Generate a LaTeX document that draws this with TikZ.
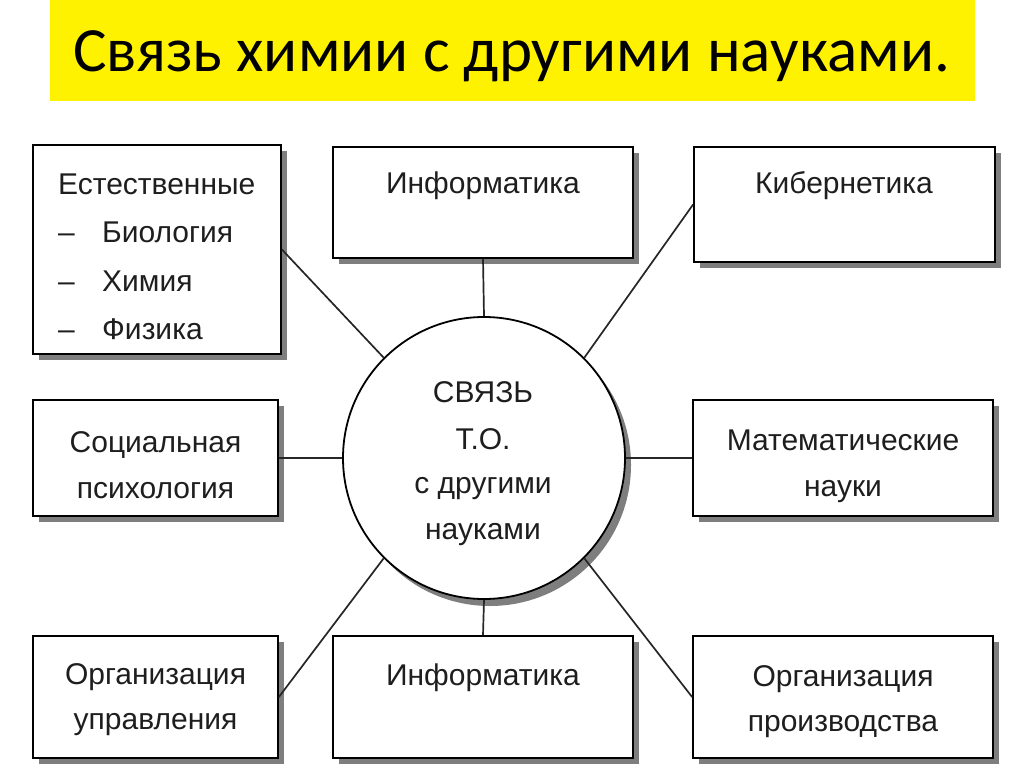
\documentclass[tikz,border=0pt]{standalone}
\usepackage{fontspec}
\setmainfont{Liberation Sans}
\newfontfamily\titlefont{Carlito}
\usetikzlibrary{shadows}
\definecolor{txtc}{HTML}{1E1E1E}
\definecolor{shadowc}{HTML}{7E7E7E}
\begin{document}
\begin{tikzpicture}[x=1pt,y=-1pt,
  boxst/.style={draw=black, line width=1.8pt, fill=white, rectangle, inner sep=0pt,
    drop shadow={shadow xshift=6pt, shadow yshift=-6pt, fill=shadowc, opacity=1}},
  txt/.style={font=\fontsize{30}{30}\selectfont, text=txtc, inner sep=0pt, anchor=base},
  link/.style={draw=black!85, line width=1.7pt}]
\fill[white] (0,0) rectangle (1024,767);
\useasboundingbox (0,0) rectangle (1024,767);
% title
\fill[yellow] (50,0) rectangle (975,101);
\node[inner sep=0pt, anchor=base, font=\titlefont\fontsize{63}{63}\selectfont] (title) at (511.5,72) {Связь химии с другими науками.};
% boxes
\node[boxst, minimum width=248pt, minimum height=209pt] (est) at (157,249.5) {};
\node[boxst, minimum width=300pt, minimum height=111pt] (inf1) at (483,202.5) {};
\node[boxst, minimum width=301pt, minimum height=115pt] (kib) at (844.5,204.5) {};
\node[boxst, minimum width=245pt, minimum height=116pt] (soc) at (155.5,458) {};
\node[boxst, minimum width=300pt, minimum height=116pt] (mat) at (843,458) {};
\node[boxst, minimum width=245pt, minimum height=122pt] (upr) at (155.5,697) {};
\node[boxst, minimum width=300pt, minimum height=122pt] (inf2) at (483,697) {};
\node[boxst, minimum width=300pt, minimum height=122pt] (pro) at (843,697) {};
\node[draw=black, line width=1.8pt, fill=white, circle, inner sep=0pt, minimum size=282pt,
  drop shadow={shadow xshift=6pt, shadow yshift=-7pt, fill=shadowc, opacity=1}] (c) at (484,458) {};
% connectors
\draw[link] (est.east) -- (c.135);
\draw[link] (inf1.south) -- (c.north);
\draw[link] (kib.west) -- (c.45);
\draw[link] (soc.east) -- (c.west);
\draw[link] (c.east) -- (mat.west);
\draw[link] (upr.east) -- (c.225);
\draw[link] (c.south) -- (inf2.north);
\draw[link] (c.-45) -- (pro.west);
% texts
\node[txt, anchor=base west] (est1) at (58,195) {Естественные};
\node[txt, anchor=base west] (est2) at (58,243) {\makebox[44pt][l]{–}Биология};
\node[txt, anchor=base west] (est3) at (58,291) {\makebox[44pt][l]{–}Химия};
\node[txt, anchor=base west] (est4) at (58,339) {\makebox[44pt][l]{–}Физика};
\node[txt] (inf1t) at (483,194) {Информатика};
\node[txt] (kibt) at (844,194) {Кибернетика};
\node[txt] (soc1) at (155.5,452) {Социальная};
\node[txt] (soc2) at (155.5,498) {психология};
\node[txt] (mat1) at (843,450) {Математические};
\node[txt] (mat2) at (843,496) {науки};
\node[txt] (upr1) at (155.5,684) {Организация};
\node[txt] (upr2) at (155.5,729) {управления};
\node[txt] (inf2t) at (483,685) {Информатика};
\node[txt] (pro1) at (843,686) {Организация};
\node[txt] (pro2) at (843,731) {производства};
\node[txt] (c1) at (483,402) {СВЯЗЬ};
\node[txt] (c2) at (483,449) {Т.О.};
\node[txt] (c3) at (483,493) {с другими};
\node[txt] (c4) at (483,539) {науками};
\end{tikzpicture}
\end{document}
